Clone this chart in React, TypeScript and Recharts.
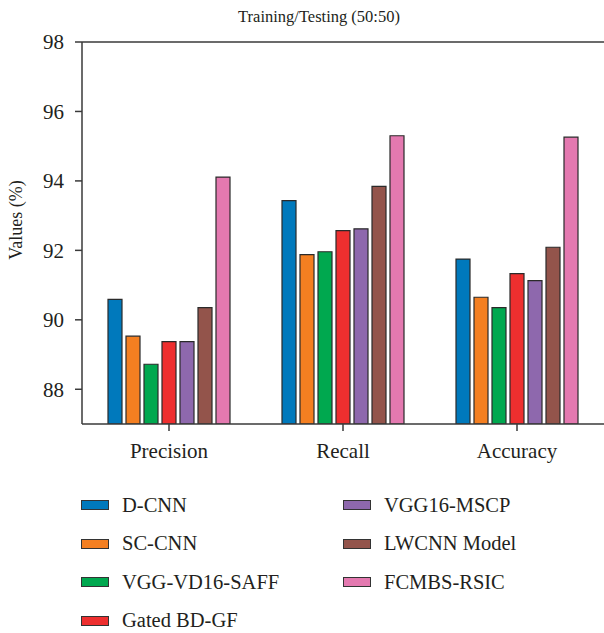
import React from 'react';
import {
  BarChart,
  Bar,
  XAxis,
  YAxis,
  ReferenceLine,
} from 'recharts';

const categories = ['Precision', 'Recall', 'Accuracy'];

const dCnn = [90.59, 93.43, 91.75];
const scCnn = [89.53, 91.88, 90.65];
const vggVd16Saff = [88.72, 91.96, 90.35];
const gatedBdGf = [89.37, 92.57, 91.33];
const vgg16Mscp = [89.37, 92.62, 91.13];
const lwcnnModel = [90.35, 93.84, 92.09];
const fcmbsRsic = [94.11, 95.3, 95.26];

const yTicks = [88, 90, 92, 94, 96, 98];

const series = [
  { key: 'dcnn', name: 'D-CNN', values: dCnn, color: '#0079bc' },
  { key: 'sccnn', name: 'SC-CNN', values: scCnn, color: '#f47f21' },
  { key: 'vggvd', name: 'VGG-VD16-SAFF', values: vggVd16Saff, color: '#00a84f' },
  { key: 'gated', name: 'Gated BD-GF', values: gatedBdGf, color: '#ee2f2f' },
  { key: 'mscp', name: 'VGG16-MSCP', values: vgg16Mscp, color: '#8e68ad' },
  { key: 'lwcnn', name: 'LWCNN Model', values: lwcnnModel, color: '#93544b' },
  { key: 'fcmbs', name: 'FCMBS-RSIC', values: fcmbsRsic, color: '#e479b0' },
];

const data = categories.map((cat, i) => {
  const row: Record<string, string | number> = { category: cat };
  series.forEach((s) => {
    row[s.key] = s.values[i];
  });
  return row;
});

const FONT = '"Liberation Serif", "DejaVu Serif", serif';
const AXIS = '#3a3a3a';
const TEXT = '#231f20';

const LegendBox = () => {
  // two columns: first four on the left, last three on the right
  const cols = [series.slice(0, 4), series.slice(4)];
  return (
    <div style={{ position: 'absolute', top: 493, left: 0, width: 604, height: 140, fontFamily: FONT }}>
      {cols.map((col, ci) =>
        col.map((s, ri) => (
          <div
            key={s.key}
            style={{
              position: 'absolute',
              left: ci === 0 ? 81 : 343,
              top: ri * 38.5,
              display: 'flex',
              alignItems: 'center',
              height: 24,
              whiteSpace: 'nowrap',
            }}
          >
            <span
              style={{
                display: 'inline-block',
                width: 26,
                height: 8,
                background: s.color,
                border: '1px solid #333',
                marginRight: 13,
              }}
            />
            <span style={{ fontSize: 20.5, color: TEXT }}>{s.name}</span>
          </div>
        ))
      )}
    </div>
  );
};

const YLabel = (props: any) => {
  const { viewBox } = props;
  const cx = 16;
  const cy = viewBox.y + viewBox.height / 2 - 13;
  return (
    <text
      x={cx}
      y={cy}
      transform={`rotate(-90, ${cx}, ${cy})`}
      textAnchor="middle"
      dominantBaseline="central"
      fill={TEXT}
      fontSize={18}
      fontFamily={FONT}
    >
      Values (%)
    </text>
  );
};

const App: React.FC = () => {
  return (
    <div style={{ position: 'absolute', left: 0, top: 0, width: 604, height: 633, background: '#fff' }}>
      <div
        style={{
          position: 'absolute',
          top: 7,
          left: 119,
          width: 400,
          textAlign: 'center',
          fontFamily: FONT,
          fontSize: 16.5,
          color: TEXT,
        }}
      >
        Training/Testing (50:50)
      </div>
      <BarChart
        width={604}
        height={633}
        data={data}
        margin={{ top: 42, right: 0, left: 0, bottom: 169 }}
        barSize={14}
        barGap={4}
      >
        <XAxis
          dataKey="category"
          stroke={AXIS}
          strokeWidth={1.5}
          tickSize={7}
          tickMargin={12}
          tick={{ fill: TEXT, fontSize: 21, fontFamily: FONT }}
          height={40}
        />
        <YAxis
          domain={[87, 98]}
          ticks={yTicks}
          allowDataOverflow
          stroke={AXIS}
          strokeWidth={1.5}
          tickSize={7}
          tickMargin={11}
          width={82}
          tick={{ fill: TEXT, fontSize: 21, fontFamily: FONT }}
          label={<YLabel />}
        />
        <ReferenceLine y={98} stroke={AXIS} strokeWidth={1.5} />
        {series.map((s) => (
          <Bar
            key={s.key}
            dataKey={s.key}
            name={s.name}
            fill={s.color}
            stroke="#2a2a2a"
            strokeWidth={1.2}
            isAnimationActive={false}
          />
        ))}
      </BarChart>
      <LegendBox />
    </div>
  );
};

export default App;
